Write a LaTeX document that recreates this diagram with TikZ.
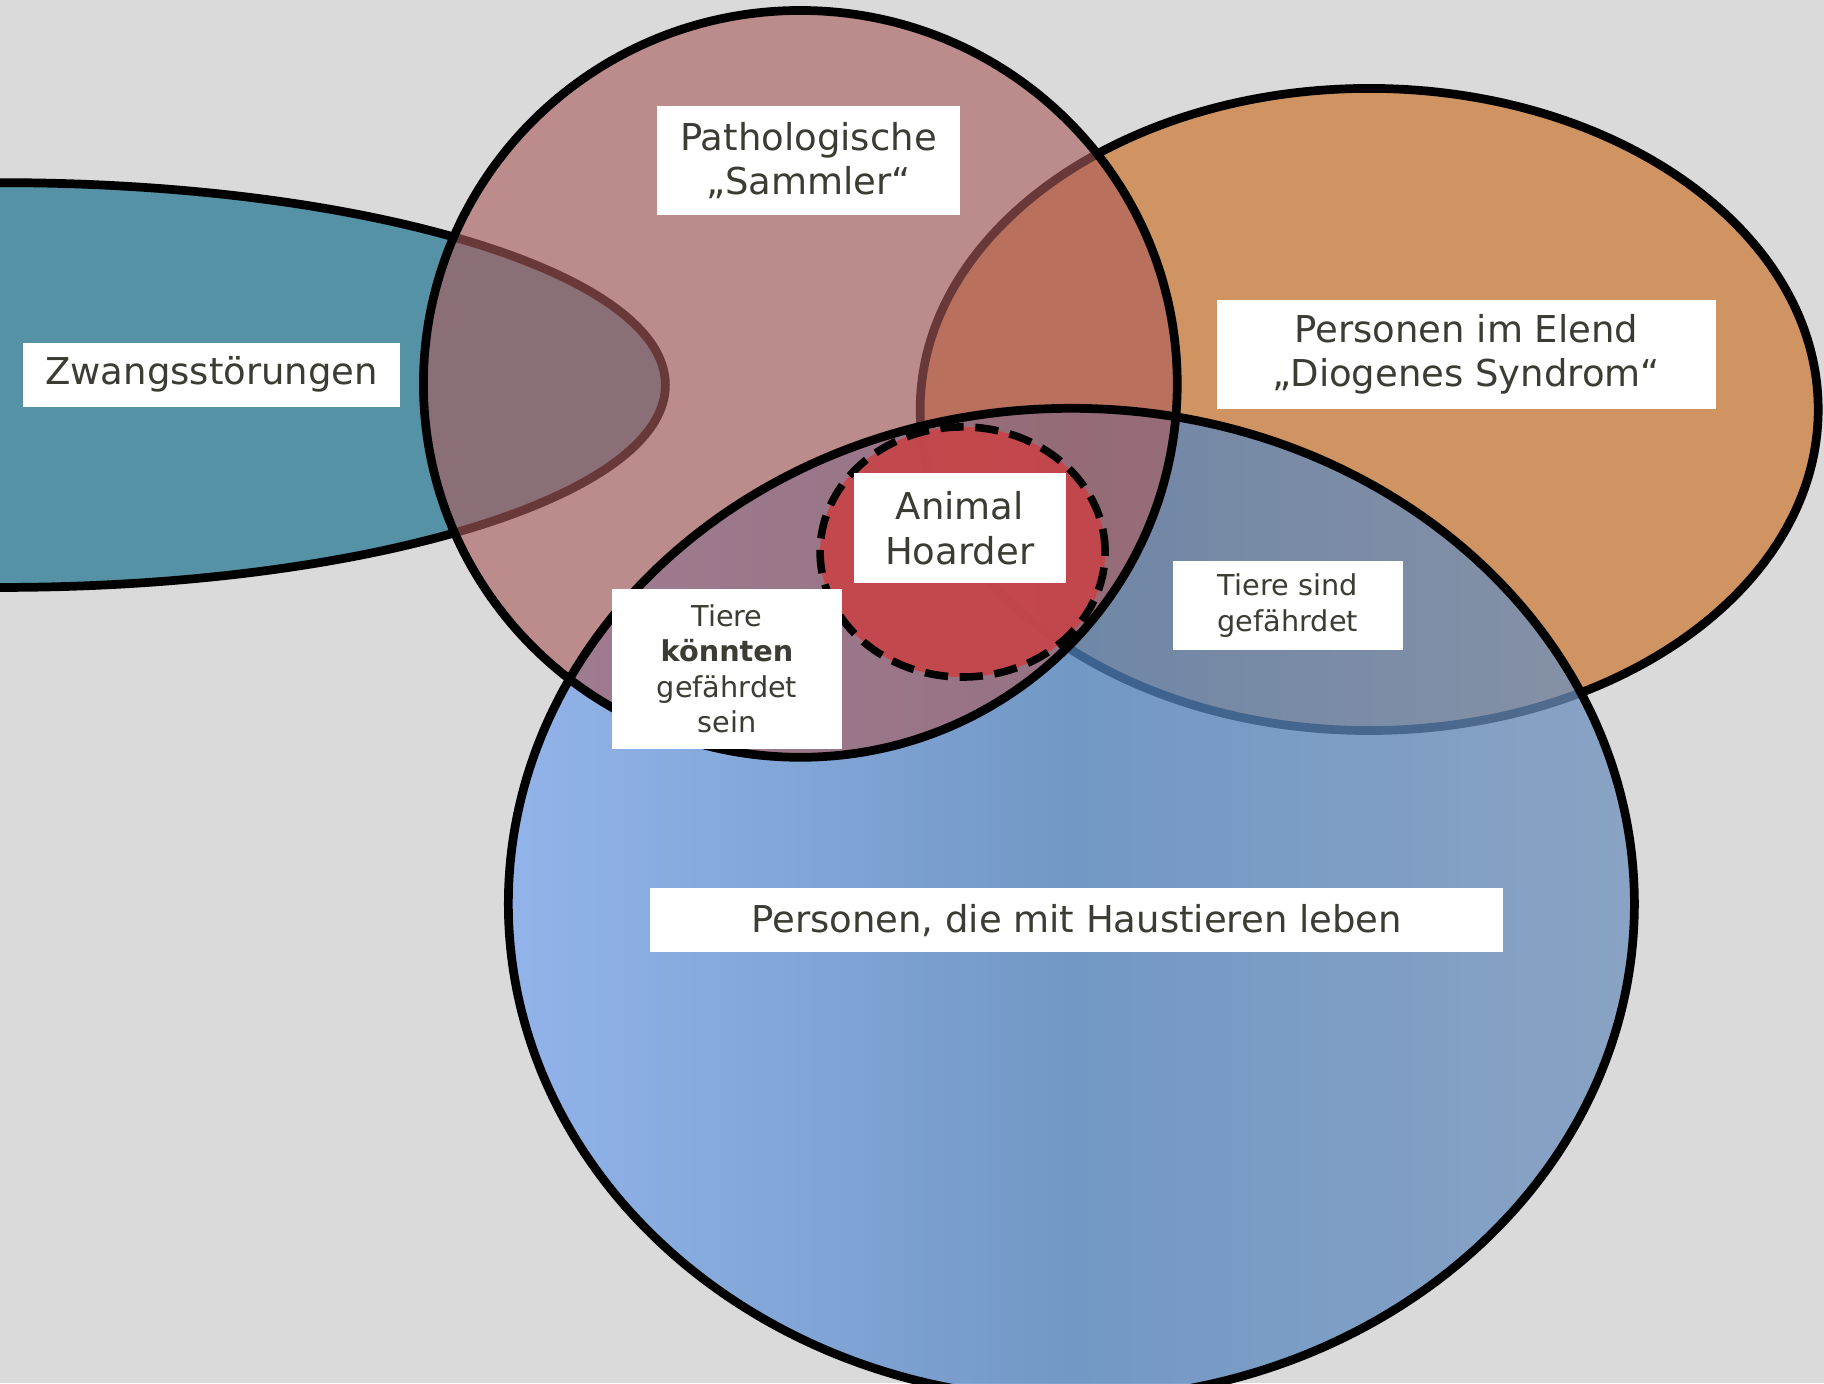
\documentclass[tikz,border=0pt]{standalone}
\usepackage{fontspec}
\setmainfont{DejaVu Sans}
\definecolor{cBg}{RGB}{218,218,218}
\definecolor{cTeal}{RGB}{86,146,166}
\definecolor{cOrange}{RGB}{208,148,98}
\definecolor{cPink}{RGB}{171,91,91}
\definecolor{cBlueL}{RGB}{122,167,240}
\definecolor{cBlueM}{RGB}{80,131,191}
\definecolor{cBlueR}{RGB}{111,145,189}
\definecolor{cRed}{RGB}{200,68,72}
\definecolor{cText}{RGB}{60,60,52}
\begin{document}
\begin{tikzpicture}[x=1pt,y=-1pt,
  rim/.style={draw=black, line width=7.5pt},
  tagbox/.style={fill=white, inner sep=0pt, align=center, text=cText,
    font=\fontsize{31.8}{38}\selectfont},
  smalltag/.style={tagbox, font=\fontsize{24.7}{30.5}\selectfont}]

\useasboundingbox (0,0) rectangle (1568,1189);
\fill[cBg] (0,0) rectangle (1568,1189);

\begin{scope}
  \clip (0,0) rectangle (1568,1189);
  % Zwangsstörungen
  \path[fill=cTeal, rim] (0,331) ellipse [x radius=572pt, y radius=174pt];
  % Diogenes-Syndrom
  \path[fill=cOrange, rim] (1177,352) ellipse [x radius=386pt, y radius=276pt];
  % Haustierhalter (translucent gradient)
  \shade[left color=cBlueL, right color=cBlueR, middle color=cBlueM,
    fill opacity=0.75] (921,777) ellipse [x radius=484pt, y radius=426pt];
  % Sammler (translucent)
  \path[fill=cPink, fill opacity=0.62] (688,330) ellipse [x radius=324pt, y radius=321pt];
  % outlines on top of the translucent fills
  \draw[rim] (921,777) ellipse [x radius=484pt, y radius=426pt];
  \draw[rim] (688,330) ellipse [x radius=324pt, y radius=321pt];
  % Animal Hoarder
  \path[fill=cRed, fill opacity=0.9, draw=black, line width=6.5pt,
    dash pattern=on 20pt off 10pt] (827.5,474.5) ellipse [x radius=122.5pt, y radius=107.5pt];
\end{scope}

\node[tagbox, minimum width=260pt, minimum height=93pt] (sammler) at (695,138)
  {Pathologische\\„Sammler“};
\node[tagbox, minimum width=324pt, minimum height=55pt] (zwang) at (182,322)
  {Zwangsstörungen};
\node[tagbox, minimum width=429pt, minimum height=94pt] (elend) at (1260.5,304.5)
  {Personen im Elend\\„Diogenes Syndrom“};
\node[tagbox, minimum width=182pt, minimum height=94pt] (hoarder) at (825,454)
  {Animal\\Hoarder};
\node[smalltag, minimum width=198pt, minimum height=138pt] (koennten) at (625,575)
  {Tiere\\\textbf{könnten}\\gefährdet\\sein};
\node[smalltag, minimum width=198pt, minimum height=76pt] (sind) at (1107,520.5)
  {Tiere sind\\gefährdet};
\node[tagbox, minimum width=733pt, minimum height=55pt] (haustiere) at (925.5,791)
  {Personen, die mit Haustieren leben};
\end{tikzpicture}
\end{document}
